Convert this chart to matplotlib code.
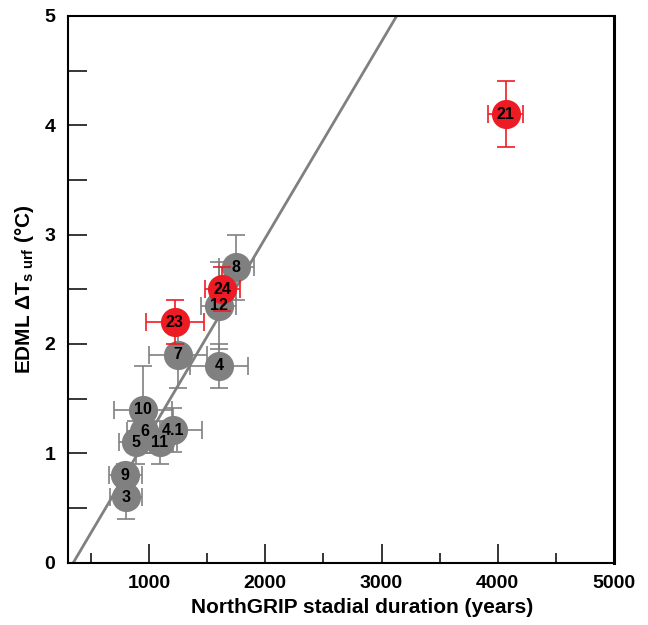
import matplotlib
matplotlib.use("Agg")
import matplotlib.pyplot as plt
from matplotlib.ticker import MultipleLocator

plt.rcParams['font.family'] = ['Liberation Sans', 'DejaVu Sans']
plt.rcParams['font.weight'] = 'bold'
plt.rcParams['mathtext.fontset'] = 'custom'
plt.rcParams['mathtext.rm'] = 'Liberation Sans:bold'
plt.rcParams['mathtext.bf'] = 'Liberation Sans:bold'
plt.rcParams['mathtext.it'] = 'Liberation Sans:bold'

# Data
labels = ['3', '9', '5', '6', '11', '4.1', '10', '7', '4', '12', '8', '23', '24', '21']
duration = [800, 795, 885, 960, 1090, 1205, 950, 1250, 1600, 1600, 1750, 1220, 1630, 4070]
dT = [0.6, 0.8, 1.1, 1.2, 1.1, 1.21, 1.4, 1.9, 1.8, 2.35, 2.7, 2.2, 2.5, 4.1]
dur_err = [140, 140, 140, 150, 150, 250, 250, 250, 250, 150, 150, 250, 150, 150]
dT_err = [0.2, 0.1, 0.2, 0.2, 0.2, 0.2, 0.4, 0.3, 0.2, 0.4, 0.3, 0.2, 0.2, 0.3]
group = ['g', 'g', 'g', 'g', 'g', 'g', 'g', 'g', 'g', 'g', 'g', 'r', 'r', 'r']

fit_x = [348, 3131]
fit_y = [0.0, 5.0]

xticks = [1000, 2000, 3000, 4000, 5000]
yticks = [0, 1, 2, 3, 4, 5]

GRAY = '#808080'
RED = '#ED1C24'

fig = plt.figure(figsize=(6.48, 6.25), dpi=100)
ax = fig.add_axes([0.1045, 0.0997, 0.843, 0.875])

ax.plot(fit_x, fit_y, color=GRAY, lw=2.0, zorder=2.5, solid_capstyle='butt')

for g, c in (('g', GRAY), ('r', RED)):
    idx = [i for i, v in enumerate(group) if v == g]
    xs = [duration[i] for i in idx]
    ys = [dT[i] for i in idx]
    ax.errorbar(xs, ys, xerr=[dur_err[i] for i in idx], yerr=[dT_err[i] for i in idx],
                fmt='none', ecolor=c, elinewidth=1.2, capsize=6.5, capthick=1.2,
                zorder=2 if g == 'g' else 3.2)
    ax.plot(xs, ys, 'o', color=c, ms=21, mec='none',
            zorder=3 if g == 'g' else 3.3)

for lab, xv, yv in zip(labels, duration, dT):
    ax.text(xv, yv, lab, ha='center', va='center', fontsize=11.5,
            fontweight='bold', color='black', zorder=5)

ax.set_xlim(300, 5000)
ax.set_ylim(0, 5)
ax.set_xticks(xticks)
ax.set_yticks(yticks)
ax.xaxis.set_minor_locator(MultipleLocator(500))
ax.yaxis.set_minor_locator(MultipleLocator(0.5))
ax.tick_params(axis='both', which='both', direction='in', top=False, right=False,
               width=1.1, labelsize=14)
ax.tick_params(axis='x', which='major', length=13.7, pad=9)
ax.tick_params(axis='x', which='minor', length=7)
ax.tick_params(axis='y', which='both', length=13.7, pad=9)
for lbl in ax.get_xticklabels() + ax.get_yticklabels():
    lbl.set_fontweight('bold')

for s in ax.spines.values():
    s.set_linewidth(1.5)
ax.spines['right'].set_linewidth(2.2)

ax.set_xlabel('NorthGRIP stadial duration (years)', fontsize=15, fontweight='bold', labelpad=7)
ax.xaxis.set_label_coords(0.539, -0.065)
ax.set_ylabel(r'EDML $\Delta$T$_{\mathbf{s\ urf}}$ (°C)', fontsize=15, fontweight='bold', labelpad=6)

fig.savefig('out.png', dpi=100)
